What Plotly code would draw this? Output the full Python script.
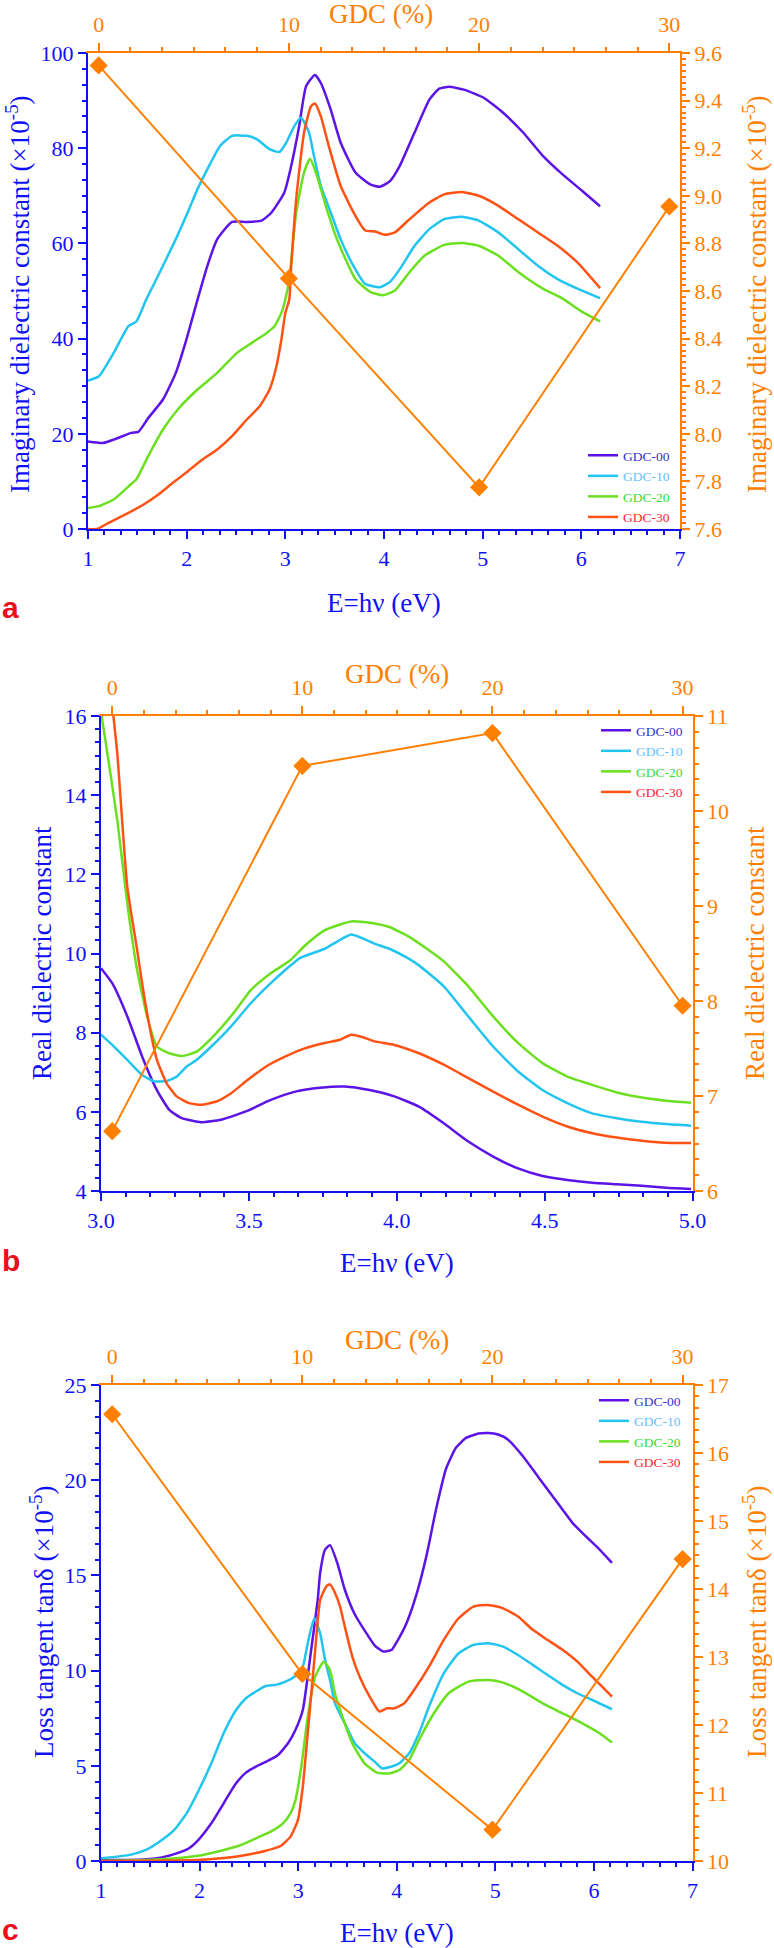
import plotly.graph_objects as go

W, H = 774, 1948
SERIF = "Liberation Serif"
BLUE = "#1010F5"
ORANGE = "#FF8000"
C00, C10, C20, C30 = "#5C14E6", "#22C4F0", "#6CE020", "#FF5214"
T00, T10, T20, T30 = "#3333CC", "#66C0FF", "#33DD33", "#FF2233"
names = ["GDC-00", "GDC-10", "GDC-20", "GDC-30"]

# ---------------- Panel a: imaginary dielectric constant ----------------
a_E_00 = [1.0, 1.16, 1.44, 1.51, 1.61, 1.76, 1.89, 2.0, 2.11, 2.21, 2.31, 2.46, 2.61, 2.76, 2.86, 2.99, 3.06,
          3.14, 3.21, 3.30, 3.36, 3.46, 3.56, 3.71, 3.86, 3.96, 4.06, 4.16, 4.31, 4.46, 4.56, 4.66, 4.81,
          5.01, 5.21, 5.41, 5.61, 5.81, 6.01, 6.19]
a_V_00 = [18.4, 18.1, 20.2, 20.4, 23.3, 27.2, 32.8, 40.0, 48.2, 55.3, 60.9, 64.5, 64.5, 64.8, 66.5, 70.7, 76.3,
          84.6, 93.0, 95.4, 93.7, 88.1, 81.2, 74.9, 72.4, 71.9, 73.1, 76.3, 83.3, 90.2, 92.5, 92.9, 92.3,
          90.6, 87.4, 83.3, 78.4, 74.5, 71.0, 67.8]
a_E_10 = [1.0, 1.11, 1.26, 1.41, 1.49, 1.59, 1.71, 1.89, 2.01, 2.11, 2.21, 2.34, 2.46, 2.61, 2.71, 2.84, 2.94,
          3.01, 3.09, 3.16, 3.24, 3.29, 3.36, 3.46, 3.56, 3.69, 3.81, 3.96, 4.06, 4.16, 4.31, 4.46, 4.61,
          4.79, 4.96, 5.16, 5.36, 5.56, 5.76, 5.96, 6.19]
a_V_10 = [31.2, 32.1, 37.0, 42.6, 43.6, 48.2, 53.2, 60.9, 66.5, 71.4, 75.6, 80.5, 82.6, 82.6, 81.9, 79.8, 79.2,
          81.2, 84.6, 86.4, 83.3, 78.4, 72.1, 66.5, 60.9, 55.3, 51.5, 50.8, 51.9, 54.6, 59.5, 63.0, 65.1,
          65.6, 64.8, 62.3, 58.8, 55.3, 52.5, 50.5, 48.5]
a_E_20 = [1.0, 1.11, 1.26, 1.44, 1.49, 1.61, 1.76, 1.91, 2.11, 2.31, 2.51, 2.66, 2.81, 2.89, 2.96, 3.0, 3.04,
          3.11, 3.19, 3.25, 3.31, 3.41, 3.51, 3.61, 3.71, 3.86, 3.99, 4.11, 4.26, 4.41, 4.61, 4.79, 4.96,
          5.16, 5.36, 5.61, 5.81, 6.01, 6.19]
a_V_20 = [4.4, 4.8, 6.2, 9.5, 10.4, 15.3, 20.9, 25.1, 29.3, 32.8, 37.0, 39.1, 41.2, 42.6, 45.4, 48.2, 52.5,
          66.5, 74.9, 77.8, 74.9, 67.9, 61.6, 56.7, 52.5, 49.8, 49.1, 50.1, 54.0, 57.4, 59.7, 60.1, 59.5,
          57.4, 54.0, 50.5, 48.4, 45.6, 43.6]
a_E_30 = [1.0, 1.09, 1.21, 1.41, 1.56, 1.71, 1.86, 2.01, 2.16, 2.31, 2.46, 2.61, 2.74, 2.84, 2.91, 2.96, 3.0,
          3.04, 3.06, 3.11, 3.19, 3.26, 3.30, 3.36, 3.44, 3.56, 3.71, 3.81, 3.91, 4.01, 4.11, 4.26, 4.46,
          4.61, 4.79, 4.96, 5.16, 5.36, 5.56, 5.76, 5.96, 6.19]
a_V_30 = [0.0, 0.0, 1.3, 3.4, 5.1, 7.2, 9.7, 12.1, 14.6, 16.7, 19.5, 23.0, 25.8, 29.3, 34.2, 39.8, 45.4,
          48.2, 55.3, 69.3, 83.3, 88.8, 89.4, 86.7, 80.5, 72.1, 65.8, 62.7, 62.5, 61.8, 62.3, 65.1, 68.6,
          70.3, 70.8, 70.0, 67.9, 65.1, 62.3, 59.5, 56.0, 50.6]

# ---------------- Panel b: real dielectric constant ----------------
b_E_00 = [3.0, 3.038, 3.089, 3.139, 3.189, 3.231, 3.273, 3.339, 3.406, 3.490, 3.574, 3.657, 3.741, 3.824,
          3.908, 3.992, 4.075, 4.159, 4.242, 4.326, 4.410, 4.493, 4.577, 4.661, 4.744, 4.828, 4.911, 4.995]
b_V_00 = [9.63, 9.25, 8.41, 7.40, 6.55, 6.05, 5.84, 5.74, 5.80, 6.01, 6.30, 6.51, 6.61, 6.64,
          6.55, 6.39, 6.13, 5.71, 5.25, 4.87, 4.57, 4.38, 4.28, 4.21, 4.17, 4.13, 4.08, 4.05]
b_E_10 = [3.0, 3.038, 3.089, 3.139, 3.181, 3.222, 3.256, 3.289, 3.323, 3.373, 3.440, 3.507, 3.574, 3.624,
          3.674, 3.757, 3.846, 3.925, 3.975, 4.033, 4.075, 4.159, 4.242, 4.326, 4.410, 4.493, 4.577,
          4.661, 4.744, 4.828, 4.911, 4.995]
b_V_10 = [7.95, 7.69, 7.31, 6.93, 6.77, 6.78, 6.89, 7.14, 7.31, 7.65, 8.16, 8.75, 9.25, 9.59,
          9.89, 10.12, 10.48, 10.25, 10.12, 9.90, 9.70, 9.17, 8.41, 7.65, 7.02, 6.55, 6.22,
          5.96, 5.84, 5.75, 5.69, 5.65]
b_E_20 = [3.0, 3.013, 3.055, 3.089, 3.122, 3.156, 3.189, 3.231, 3.273, 3.323, 3.390, 3.457, 3.507, 3.574,
          3.640, 3.691, 3.757, 3.846, 3.925, 3.975, 4.042, 4.109, 4.159, 4.242, 4.326, 4.410, 4.493,
          4.577, 4.661, 4.744, 4.828, 4.911, 4.995]
b_V_20 = [16.1, 15.48, 13.37, 11.26, 9.59, 8.41, 7.65, 7.48, 7.41, 7.52, 7.99, 8.58, 9.08, 9.50,
          9.83, 10.21, 10.59, 10.81, 10.76, 10.67, 10.42, 10.08, 9.80, 9.17, 8.41, 7.74, 7.23,
          6.89, 6.68, 6.49, 6.36, 6.28, 6.23]
b_E_30 = [3.0, 3.042, 3.055, 3.089, 3.122, 3.139, 3.164, 3.189, 3.222, 3.256, 3.298, 3.339, 3.390, 3.440,
          3.490, 3.557, 3.624, 3.691, 3.757, 3.808, 3.846, 3.883, 3.925, 3.992, 4.075, 4.159, 4.242,
          4.326, 4.410, 4.493, 4.577, 4.661, 4.744, 4.828, 4.911, 4.995]
b_V_30 = [19.0, 16.0, 15.06, 11.68, 10.1, 9.25, 8.16, 7.31, 6.72, 6.39, 6.22, 6.18, 6.26, 6.47,
          6.77, 7.14, 7.40, 7.61, 7.74, 7.82, 7.95, 7.89, 7.78, 7.69, 7.48, 7.19, 6.85,
          6.51, 6.18, 5.88, 5.63, 5.46, 5.35, 5.27, 5.22, 5.21]

# ---------------- Panel c: loss tangent ----------------
c_E_00 = [1.0, 1.266, 1.467, 1.617, 1.768, 1.893, 1.993, 2.119, 2.244, 2.370, 2.470, 2.571, 2.696, 2.796,
          2.897, 2.972, 3.047, 3.122, 3.198, 3.223, 3.273, 3.323, 3.40, 3.47, 3.57, 3.70, 3.78, 3.865,
          3.950, 4.0, 4.1, 4.2, 4.3, 4.4, 4.5, 4.6, 4.703, 4.828, 4.929, 5.029, 5.129, 5.280,
          5.431, 5.581, 5.681, 5.782, 5.932, 6.058, 6.183]
c_V_00 = [0.05, 0.05, 0.09, 0.19, 0.40, 0.67, 1.14, 1.98, 3.03, 4.08, 4.64, 4.96, 5.27, 5.57,
          6.18, 6.88, 7.93, 10.7, 13.7, 15.14, 16.36, 16.59, 15.6, 14.3, 13.0, 11.9, 11.3, 11.0,
          11.1, 11.5, 12.5, 14.0, 16.0, 18.5, 20.6, 21.7, 22.22, 22.45, 22.48, 22.4, 22.13, 21.26,
          20.2, 19.16, 18.46, 17.76, 16.98, 16.36, 15.66]
c_E_10 = [1.0, 1.166, 1.316, 1.467, 1.617, 1.743, 1.868, 1.993, 2.119, 2.244, 2.370, 2.470, 2.571, 2.671,
          2.771, 2.872, 2.972, 3.047, 3.097, 3.163, 3.223, 3.273, 3.323, 3.373, 3.473, 3.574, 3.674,
          3.775, 3.850, 3.950, 4.026, 4.126, 4.226, 4.327, 4.477, 4.628, 4.778, 4.929, 5.079, 5.230,
          5.380, 5.531, 5.681, 5.832, 5.982, 6.183]
c_V_10 = [0.14, 0.23, 0.35, 0.61, 1.10, 1.63, 2.50, 3.73, 5.13, 6.71, 7.93, 8.55, 8.90, 9.19,
          9.25, 9.42, 9.72, 10.2, 11.44, 12.75, 11.96, 10.56, 9.51, 8.28, 7.23, 6.18, 5.66,
          5.22, 4.87, 4.96, 5.13, 5.66, 6.71, 8.11, 9.86, 10.91, 11.35, 11.44, 11.26, 10.82,
          10.3, 9.77, 9.25, 8.81, 8.46, 7.97]
c_E_20 = [1.0, 1.266, 1.617, 1.968, 2.219, 2.420, 2.571, 2.721, 2.846, 2.922, 2.972, 3.032, 3.097, 3.173,
          3.258, 3.323, 3.373, 3.449, 3.549, 3.674, 3.800, 3.925, 4.026, 4.126, 4.226, 4.377, 4.527,
          4.728, 4.929, 5.079, 5.280, 5.481, 5.681, 5.882, 6.058, 6.183]
c_V_20 = [0.0, 0.02, 0.09, 0.26, 0.54, 0.84, 1.19, 1.54, 1.98, 2.5, 3.2, 4.96, 7.58, 9.68,
          10.47, 10.03, 8.81, 7.58, 6.18, 5.13, 4.64, 4.60, 4.78, 5.31, 6.36, 7.76, 8.81,
          9.42, 9.51, 9.37, 8.90, 8.28, 7.76, 7.23, 6.71, 6.22]
c_E_30 = [1.0, 1.968, 2.219, 2.470, 2.671, 2.821, 2.922, 2.997, 3.047, 3.097, 3.173, 3.223, 3.288, 3.323,
          3.373, 3.423, 3.473, 3.549, 3.624, 3.725, 3.825, 3.900, 3.975, 4.076, 4.176, 4.327, 4.477,
          4.628, 4.778, 4.929, 5.079, 5.230, 5.380, 5.531, 5.681, 5.832, 5.982, 6.083, 6.183]
c_V_30 = [0.0, 0.05, 0.14, 0.32, 0.54, 0.79, 1.28, 2.15, 3.9, 6.71, 11.09, 13.7, 14.44, 14.53,
          14.09, 13.4, 12.31, 10.74, 9.68, 8.63, 7.85, 8.02, 8.02, 8.28, 8.98, 10.21, 11.61,
          12.75, 13.36, 13.45, 13.27, 12.84, 12.14, 11.61, 11.09, 10.47, 9.68, 9.16, 8.63]

# ---------------- GDC content (top / right axes) ----------------
gdc = [0, 10, 20, 30]
a_gdc_vals = [9.548, 8.653, 7.775, 8.955]
b_gdc_vals = [6.63, 10.475, 10.82, 7.95]
c_gdc_vals = [16.57, 12.75, 10.46, 14.44]

fig = go.Figure()

def px(x):
    return x / W

def py(y):
    return 1 - y / H

panels = [
    dict(E=[a_E_00, a_E_10, a_E_20, a_E_30], V=[a_V_00, a_V_10, a_V_20, a_V_30], g=a_gdc_vals,
         xs=("x", "x2"), ys=("y", "y2"), leg="legend"),
    dict(E=[b_E_00, b_E_10, b_E_20, b_E_30], V=[b_V_00, b_V_10, b_V_20, b_V_30], g=b_gdc_vals,
         xs=("x3", "x4"), ys=("y3", "y4"), leg="legend2"),
    dict(E=[c_E_00, c_E_10, c_E_20, c_E_30], V=[c_V_00, c_V_10, c_V_20, c_V_30], g=c_gdc_vals,
         xs=("x5", "x6"), ys=("y5", "y6"), leg="legend3"),
]
line_cols = [C00, C10, C20, C30]
text_cols = [T00, T10, T20, T30]

for p in panels:
    for i in range(4):
        fig.add_trace(go.Scatter(
            x=p["E"][i], y=p["V"][i], mode="lines",
            line=dict(color=line_cols[i], width=2.5, shape="spline", smoothing=0.5),
            name='<span style="color:%s">%s</span>' % (text_cols[i], names[i]),
            xaxis=p["xs"][0], yaxis=p["ys"][0], legend=p["leg"]))
    fig.add_trace(go.Scatter(
        x=gdc, y=p["g"], mode="lines+markers", line=dict(color=ORANGE, width=2),
        marker=dict(symbol="diamond", size=14, color=ORANGE), showlegend=False,
        xaxis=p["xs"][1], yaxis=p["ys"][1]))

TICKF = dict(family=SERIF, size=22)

def base_axis(color, rng, dtick, minor_dtick, fmt=None, standoff=0):
    d = dict(range=rng, dtick=dtick, tick0=rng[0], showgrid=False, zeroline=False, automargin=False,
             showline=True, linecolor=color, linewidth=2, ticks="outside", ticklen=8, tickwidth=2,
             tickcolor=color, tickfont=dict(TICKF, color=color), ticklabelstandoff=standoff,
             minor=dict(dtick=minor_dtick, ticks="outside", ticklen=4, tickwidth=2, tickcolor=color,
                        showgrid=False))
    if fmt:
        d["tickformat"] = fmt
    return d

dom = {
    "a": dict(x=[px(88), px(680)], y=[py(529), py(53)]),
    "b": dict(x=[px(101), px(692.5)], y=[py(1191), py(716)]),
    "c": dict(x=[px(101), px(692.5)], y=[py(1861), py(1385)]),
}

layout = dict(
    template="none",
    width=W, height=H, margin=dict(l=0, r=0, t=0, b=0, pad=0, autoexpand=False),
    paper_bgcolor="white", plot_bgcolor="white", showlegend=True,
)

# panel a
layout["xaxis"] = dict(base_axis(BLUE, [1, 7], 1, 1/6, standoff=1), domain=dom["a"]["x"], anchor="y")
layout["yaxis"] = dict(base_axis(BLUE, [0, 100], 20, 20/6), domain=dom["a"]["y"], anchor="x")
layout["xaxis2"] = dict(base_axis(ORANGE, [-0.56, 30.56], 10, 10/6, standoff=2), overlaying="x", side="top",
                        anchor="y", tick0=0)
layout["yaxis2"] = dict(base_axis(ORANGE, [7.6, 9.6], 0.2, 0.025, fmt=".1f"), overlaying="y", side="right",
                        anchor="x")
# panel b
layout["xaxis3"] = dict(base_axis(BLUE, [3, 5], 0.5, 0.5/6, fmt=".1f", standoff=1), domain=dom["b"]["x"],
                        anchor="y3")
layout["yaxis3"] = dict(base_axis(BLUE, [4, 16], 2, 2/6), domain=dom["b"]["y"], anchor="x3")
layout["xaxis4"] = dict(base_axis(ORANGE, [-0.59, 30.52], 10, 10/6, standoff=2), overlaying="x3", side="top",
                        anchor="y3", tick0=0)
layout["yaxis4"] = dict(base_axis(ORANGE, [6, 11], 1, 1/6), overlaying="y3", side="right", anchor="x3")
# panel c
layout["xaxis5"] = dict(base_axis(BLUE, [1, 7], 1, 1/6, standoff=1), domain=dom["c"]["x"], anchor="y5")
layout["yaxis5"] = dict(base_axis(BLUE, [0, 25], 5, 5/6), domain=dom["c"]["y"], anchor="x5")
layout["xaxis6"] = dict(base_axis(ORANGE, [-0.59, 30.52], 10, 10/6, standoff=2), overlaying="x5", side="top",
                        anchor="y5", tick0=0)
layout["yaxis6"] = dict(base_axis(ORANGE, [10, 17], 1, 1/6), overlaying="y5", side="right", anchor="x5")

LEGF = dict(family=SERIF, size=13.5)
for key, lx, ly in (("legend", 583, 440), ("legend2", 596, 715), ("legend3", 594, 1385)):
    layout[key] = dict(x=px(lx), y=py(ly), xanchor="left", yanchor="top", font=LEGF,
                       bgcolor="rgba(0,0,0,0)", itemwidth=30)

fig.update_layout(**layout)

TITLEF = dict(family=SERIF, size=27)
ann = []

def add_text(text, x, y, color, angle=0, font=None, xanchor="center", yanchor="middle"):
    ann.append(dict(text=text, x=px(x), y=py(y), xref="paper", yref="paper", showarrow=False,
                    textangle=angle, font=dict(font or TITLEF, color=color), xanchor=xanchor, yanchor=yanchor))

imag = "Imaginary dielectric constant (×10<sup>-5</sup>)"
real = "Real dielectric constant"
loss = "Loss tangent tanδ (×10<sup>-5</sup>)"
ex = "E=hν (eV)"
gt = "GDC (%)"
LAB = dict(family="Liberation Sans", size=30)

# panel a
add_text(imag, 18, 294, BLUE, -90)
add_text(imag, 755, 294, ORANGE, -90)
add_text(ex, 384, 603, BLUE)
add_text(gt, 381, 14, ORANGE)
add_text("<b>a</b>", 0, 626, "#E8101A", font=LAB, xanchor="left", yanchor="bottom")
# panel b
add_text(real, 42, 953, BLUE, -90)
add_text(real, 755, 953, ORANGE, -90)
add_text(ex, 397, 1263, BLUE)
add_text(gt, 397, 674, ORANGE)
add_text("<b>b</b>", 0, 1279, "#E8101A", font=LAB, xanchor="left", yanchor="bottom")
# panel c
add_text(loss, 42, 1622, BLUE, -90)
add_text(loss, 755, 1622, ORANGE, -90)
add_text(ex, 397, 1933, BLUE)
add_text(gt, 397, 1340, ORANGE)
add_text("<b>c</b>", 0, 1948, "#E8101A", font=LAB, xanchor="left", yanchor="bottom")

fig.update_layout(annotations=ann)
fig.write_html("out.html", config={"displayModeBar": False},
               post_script="document.body.style.margin='0px';document.body.style.overflow='hidden';")
